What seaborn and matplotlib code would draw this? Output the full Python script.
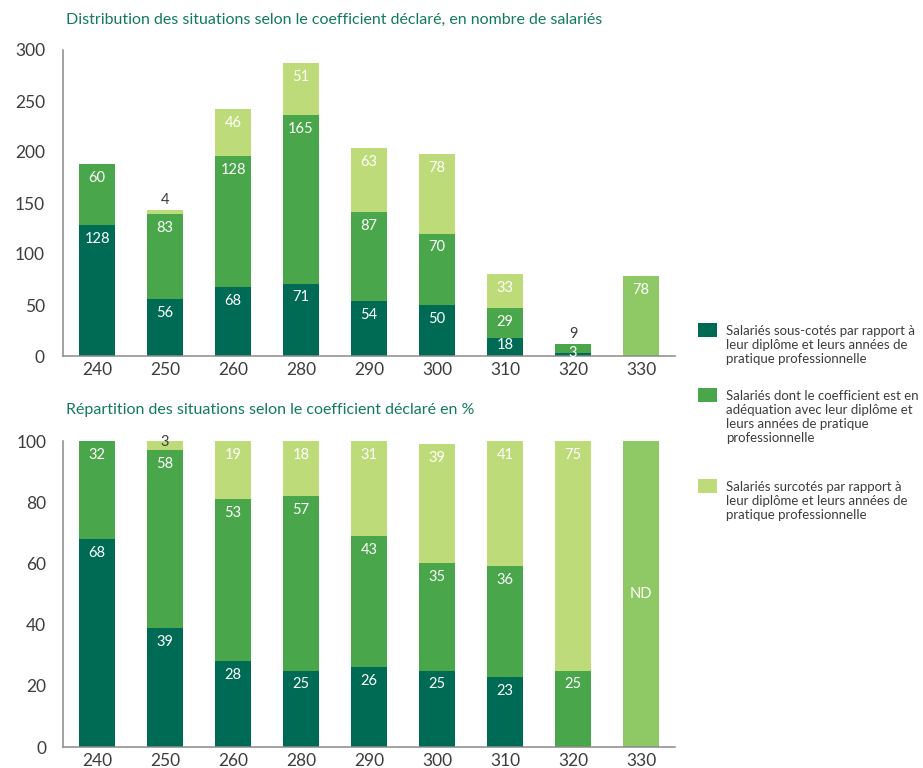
import numpy as np
import pandas as pd
import matplotlib
matplotlib.use("Agg")
import matplotlib.pyplot as plt
import seaborn as sns
from matplotlib.patches import Rectangle

# Coefficients déclarés
coefficients = ["240", "250", "260", "280", "290", "300", "310", "320", "330"]

# Nombre de salariés par situation
effectif_sous_cotes = [128, 56, 68, 71, 54, 50, 18, 3, 0]
effectif_adequation = [60, 83, 128, 165, 87, 70, 29, 9, 0]
effectif_surcotes = [0, 4, 46, 51, 63, 78, 33, 0, 0]
effectif_nd = [0, 0, 0, 0, 0, 0, 0, 0, 78]

# Répartition en %
pct_sous_cotes = [68, 39, 28, 25, 26, 25, 23, 0, 0]
pct_adequation = [32, 58, 53, 57, 43, 35, 36, 25, 0]
pct_surcotes = [0, 3, 19, 18, 31, 39, 41, 75, 0]
pct_nd = [0, 0, 0, 0, 0, 0, 0, 0, 100]

titre_effectif = "Distribution des situations selon le coefficient déclaré, en nombre de salariés"
titre_pct = "Répartition des situations selon le coefficient déclaré en %"

legende = [
    "Salariés sous-cotés par rapport à\nleur diplôme et leurs années de\npratique professionnelle",
    "Salariés dont le coefficient est en\nadéquation avec leur diplôme et\nleurs années de pratique\nprofessionnelle",
    "Salariés surcotés par rapport à\nleur diplôme et leurs années de\npratique professionnelle",
]

VERT_FONCE = "#006b54"
VERT_MOYEN = "#49a64a"
VERT_CLAIR = "#bedb79"
VERT_ND = "#8ec966"
couleurs = [VERT_FONCE, VERT_MOYEN, VERT_CLAIR, VERT_ND]
TITRE = "#137a5d"
GRIS_TEXTE = "#3d3d3d"
GRIS_AXE = "#8a8a8a"

sns.set_style("white")
plt.rcParams["font.family"] = ["Lato", "DejaVu Sans"]

W, H = 923, 768
fig = plt.figure(figsize=(W / 100, H / 100), dpi=100)


def px_axes(left, top, right, bottom):
    return fig.add_axes([left / W, 1 - bottom / H, (right - left) / W, (bottom - top) / H])


def empiler(ax, couches, nd_texte=None, petit_offset=2):
    couches = np.array(couches, dtype=float)
    cumul = np.cumsum(couches, axis=0)
    # barres cumulées dessinées de la plus haute à la plus basse
    for i in reversed(range(len(couches))):
        df = pd.DataFrame({"coef": coefficients, "val": cumul[i]})
        sns.barplot(data=df, x="coef", y="val", order=coefficients,
                    color=couleurs[i], saturation=1, width=0.53,
                    linewidth=0, errorbar=None, ax=ax)


def etiqueter(ax, couches, nd_texte=None, petit_offset=2):
    couches = np.array(couches, dtype=float)
    cumul = np.cumsum(couches, axis=0)
    ax.figure.canvas.draw()
    to_px = lambda v: ax.transData.transform((0, v))[1]
    n = len(couches)
    for j in range(len(coefficients)):
        for i in range(n):
            v = couches[i, j]
            if v <= 0:
                continue
            haut = cumul[i, j]
            bas = haut - v
            est_sommet = np.all(couches[i + 1:, j] == 0)
            if i == n - 1 and nd_texte is not None:
                ax.text(j, (haut + bas) / 2, nd_texte, ha="center", va="center",
                        color="white", fontsize=10.5)
                continue
            hauteur_px = to_px(haut) - to_px(bas)
            txt = f"{v:g}"
            if hauteur_px >= 20:
                ax.annotate(txt, (j, haut), xytext=(0, -10), textcoords="offset points",
                            ha="center", va="center", color="white", fontsize=10.5)
            elif est_sommet:
                ax.annotate(txt, (j, haut), xytext=(0, petit_offset), textcoords="offset points",
                            ha="center", va="bottom", color=GRIS_TEXTE, fontsize=10.5)
            else:
                ax.annotate(txt, (j, (haut + bas) / 2), xytext=(0, 1), textcoords="offset points",
                            ha="center", va="center", color="white", fontsize=10.5)


def habiller(ax, ymax, pas, sens_y, long_y, pad_y):
    ax.set_xlim(-0.5, len(coefficients) - 0.5)
    ax.set_ylim(0, ymax)
    ax.set_yticks(np.arange(0, ymax + 1, pas))
    ax.set_xlabel("")
    ax.set_ylabel("")
    for s in ["top", "right"]:
        ax.spines[s].set_visible(False)
    for s in ["left", "bottom"]:
        ax.spines[s].set_color(GRIS_AXE)
        ax.spines[s].set_linewidth(1.1)
    ax.tick_params(axis="y", direction=sens_y, length=long_y, width=1.1, color=GRIS_AXE,
                   labelsize=12.5, labelcolor=GRIS_TEXTE, pad=pad_y)
    ax.tick_params(axis="x", which="major", length=0, labelsize=12.5,
                   labelcolor=GRIS_TEXTE, pad=4)
    ax.set_xticks(np.arange(-0.5, len(coefficients)), minor=True)
    ax.tick_params(axis="x", which="minor", direction="out", length=6, width=1.1, color=GRIS_AXE)


# Graphique du haut : effectifs
couches_effectif = [effectif_sous_cotes, effectif_adequation, effectif_surcotes, effectif_nd]
ax1 = px_axes(63, 50, 675, 356)
empiler(ax1, couches_effectif)
habiller(ax1, 300, 50, "in", 11, 13)
etiqueter(ax1, couches_effectif)
fig.text(66 / W, 1 - 20 / H, titre_effectif, color=TITRE, fontsize=11.5, va="center", ha="left")

# Graphique du bas : pourcentages
couches_pct = [pct_sous_cotes, pct_adequation, pct_surcotes, pct_nd]
ax2 = px_axes(63, 441, 675, 747)
empiler(ax2, couches_pct)
habiller(ax2, 100, 20, "out", 7, 5)
etiqueter(ax2, couches_pct, nd_texte="ND", petit_offset=-6)
fig.text(66 / W, 1 - 410 / H, titre_pct, color=TITRE, fontsize=11.5, va="center", ha="left")

# Légende
carres_y = [323, 388, 479]
for y, c, t in zip(carres_y, couleurs[:3], legende):
    fig.add_artist(Rectangle((698 / W, 1 - (y + 14) / H), 19 / W, 14 / H,
                             transform=fig.transFigure, color=c, linewidth=0))
    fig.text(726 / W, 1 - (y + 2) / H, t, color=GRIS_TEXTE, fontsize=9.5,
             va="top", ha="left", linespacing=1.2)

fig.savefig("out.png", dpi=100)
